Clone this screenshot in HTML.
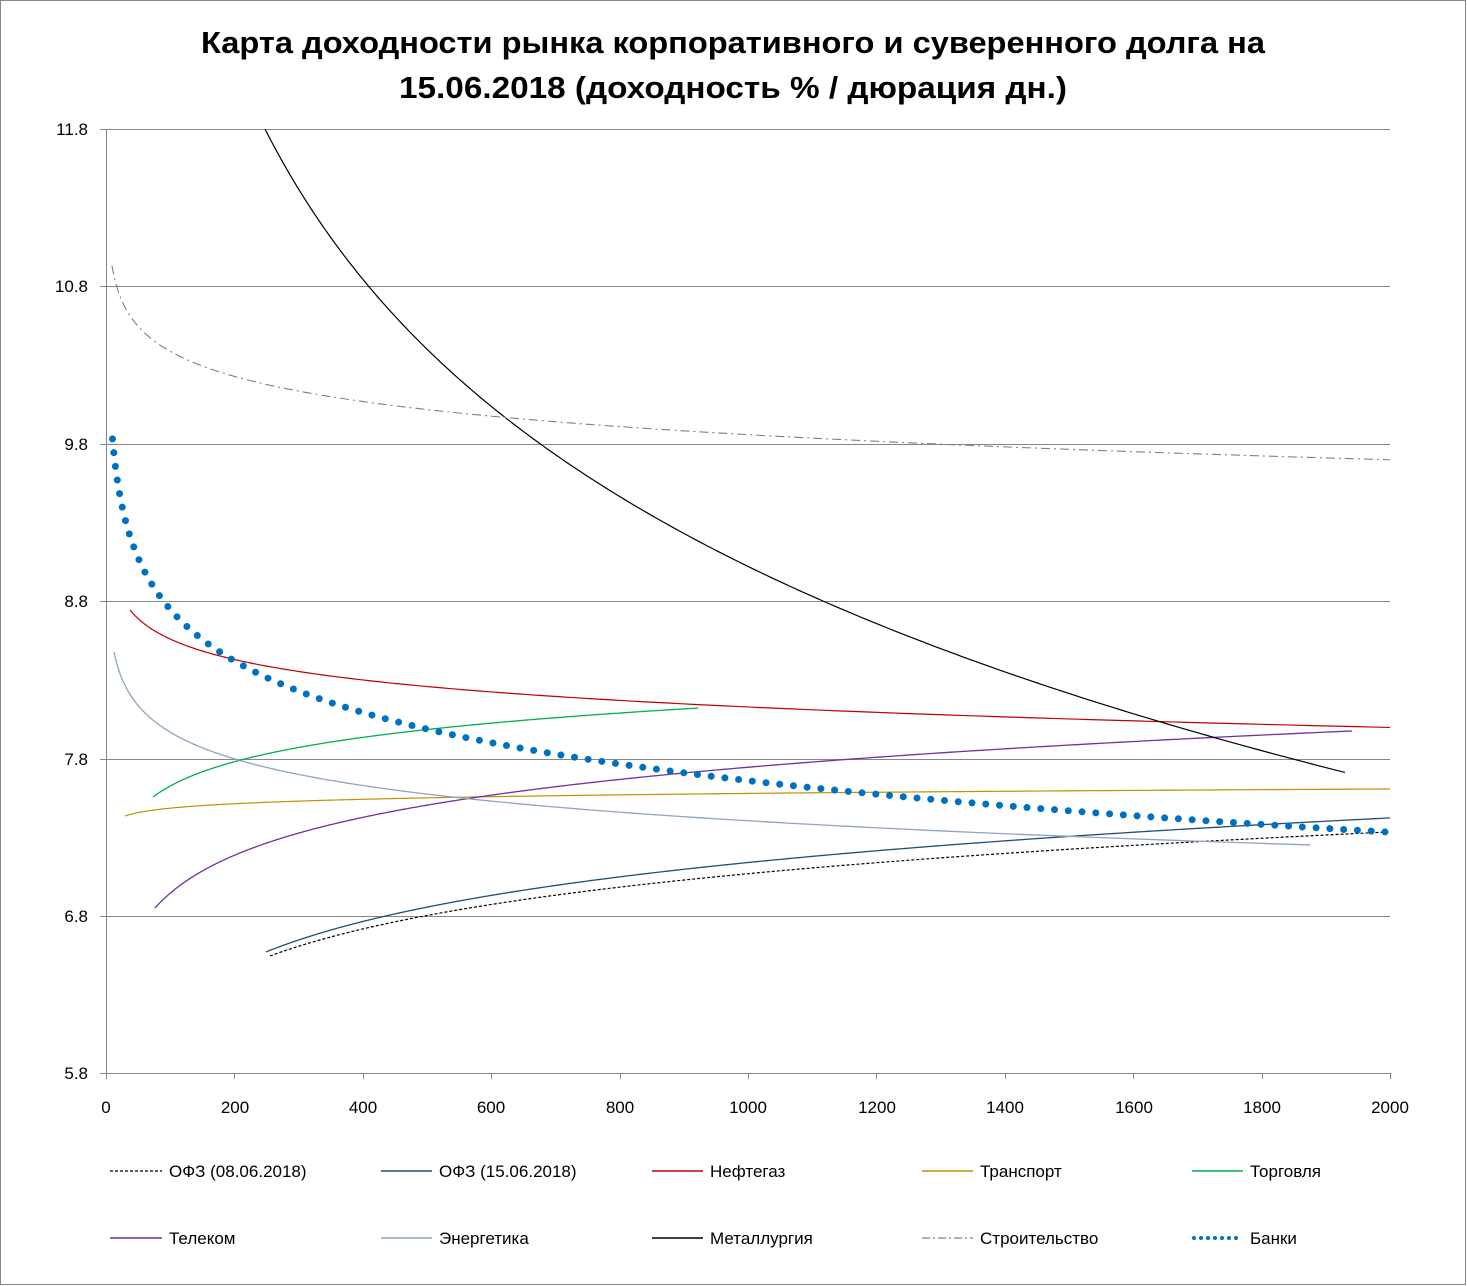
<!DOCTYPE html>
<html><head><meta charset="utf-8"><style>
html,body{margin:0;padding:0;background:#fff;}
svg{display:block;}
text{font-family:"Liberation Sans","DejaVu Sans",sans-serif;}
</style></head><body>
<svg id="s" width="1467" height="1286" viewBox="0 0 1467 1286" xmlns="http://www.w3.org/2000/svg">
<rect x="0.5" y="0.5" width="1465" height="1284" fill="#fff" stroke="#868686" stroke-width="1"/>
<text x="733" y="53" text-anchor="middle" font-size="31" font-weight="bold" textLength="1064" lengthAdjust="spacingAndGlyphs">Карта доходности рынка корпоративного и суверенного долга на</text>
<text x="733" y="98" text-anchor="middle" font-size="31" font-weight="bold" textLength="668" lengthAdjust="spacingAndGlyphs">15.06.2018 (доходность % / дюрация дн.)</text>
<g stroke="#868686" stroke-width="1">
<line x1="100" y1="129.5" x2="1390" y2="129.5"/>
<line x1="100" y1="286.5" x2="1390" y2="286.5"/>
<line x1="100" y1="444.5" x2="1390" y2="444.5"/>
<line x1="100" y1="601.5" x2="1390" y2="601.5"/>
<line x1="100" y1="759.5" x2="1390" y2="759.5"/>
<line x1="100" y1="916.5" x2="1390" y2="916.5"/>
<line x1="100" y1="1073.5" x2="1390" y2="1073.5"/>
<line x1="106.5" y1="129" x2="106.5" y2="1079"/>
<line x1="234.5" y1="1073" x2="234.5" y2="1079"/>
<line x1="363.5" y1="1073" x2="363.5" y2="1079"/>
<line x1="491.5" y1="1073" x2="491.5" y2="1079"/>
<line x1="620.5" y1="1073" x2="620.5" y2="1079"/>
<line x1="748.5" y1="1073" x2="748.5" y2="1079"/>
<line x1="876.5" y1="1073" x2="876.5" y2="1079"/>
<line x1="1005.5" y1="1073" x2="1005.5" y2="1079"/>
<line x1="1133.5" y1="1073" x2="1133.5" y2="1079"/>
<line x1="1262.5" y1="1073" x2="1262.5" y2="1079"/>
<line x1="1390.5" y1="1073" x2="1390.5" y2="1079"/>
</g>
<g font-size="17" text-anchor="end" fill="#000">
<text x="88" y="135">11.8</text>
<text x="88" y="292">10.8</text>
<text x="88" y="450">9.8</text>
<text x="88" y="607">8.8</text>
<text x="88" y="765">7.8</text>
<text x="88" y="922">6.8</text>
<text x="88" y="1079">5.8</text>
</g>
<g font-size="17" text-anchor="middle" fill="#000">
<text x="106" y="1113">0</text>
<text x="235" y="1113">200</text>
<text x="363" y="1113">400</text>
<text x="491" y="1113">600</text>
<text x="620" y="1113">800</text>
<text x="748" y="1113">1000</text>
<text x="877" y="1113">1200</text>
<text x="1005" y="1113">1400</text>
<text x="1134" y="1113">1600</text>
<text x="1262" y="1113">1800</text>
<text x="1390" y="1113">2000</text>
</g>
<g id="curves" fill="none"></g>
<g font-size="17" fill="#000">
<line x1="110" y1="1171" x2="162" y2="1171" stroke="#000" stroke-width="1.3" stroke-dasharray="3 2"/>
<text x="169" y="1177">ОФЗ (08.06.2018)</text>
<line x1="381" y1="1171" x2="432" y2="1171" stroke="#1F4E79" stroke-width="1.5"/>
<text x="439" y="1177">ОФЗ (15.06.2018)</text>
<line x1="652" y1="1171" x2="703" y2="1171" stroke="#C00000" stroke-width="1.5"/>
<text x="710" y="1177">Нефтегаз</text>
<line x1="922" y1="1171" x2="973" y2="1171" stroke="#C09000" stroke-width="1.5"/>
<text x="980" y="1177">Транспорт</text>
<line x1="1192" y1="1171" x2="1243" y2="1171" stroke="#00B050" stroke-width="1.5"/>
<text x="1250" y="1177">Торговля</text>
<line x1="110" y1="1238" x2="162" y2="1238" stroke="#7030A0" stroke-width="1.5"/>
<text x="169" y="1244">Телеком</text>
<line x1="381" y1="1238" x2="432" y2="1238" stroke="#8EA4C0" stroke-width="1.5"/>
<text x="439" y="1244">Энергетика</text>
<line x1="652" y1="1238" x2="703" y2="1238" stroke="#000" stroke-width="1.5"/>
<text x="710" y="1244">Металлургия</text>
<line x1="922" y1="1238" x2="973" y2="1238" stroke="#808080" stroke-width="1.2" stroke-dasharray="8 3 2 3"/>
<text x="980" y="1244">Строительство</text>
<line x1="1194" y1="1238" x2="1243" y2="1238" stroke="#0070C0" stroke-width="4" stroke-linecap="round" stroke-dasharray="0 7"/>
<text x="1250" y="1244">Банки</text>
</g>
</svg>
<script>
(function(){
var NS="http://www.w3.org/2000/svg";
var g=document.getElementById("curves");
function px(d){return 106+d*0.642;}
function mk(A,B,d0,d1,col,w,dash,cap,clipTop){
  var pts=[];var n=300;
  for(var i=0;i<=n;i++){
    var d=d0*Math.pow(d1/d0,i/n);
    var y=A+B*Math.log(d);
    if(clipTop&&y<129)continue;
    pts.push(px(d).toFixed(2)+","+y.toFixed(2));
  }
  var p=document.createElementNS(NS,"path");
  p.setAttribute("d","M"+pts.join(" L"));
  p.setAttribute("stroke",col);p.setAttribute("stroke-width",w);
  p.setAttribute("fill","none");
  if(dash)p.setAttribute("stroke-dasharray",dash);
  if(cap)p.setAttribute("stroke-linecap",cap);
  g.appendChild(p);
}
function dfromx(x){return (x-106)/0.642;}
mk(1290.1,-60.28,dfromx(270),2000,"#000",1.2,"3 2");
mk(1307.1,-64.36,dfromx(266),2000,"#1F4E79",1.3);
mk(503.2,29.5,dfromx(130),2000,"#C00000",1.2);
mk(837.7,-6.41,dfromx(125),2000,"#C09000",1.2);
mk(947.8,-35.12,dfromx(153),dfromx(698),"#00B050",1.3);
mk(1145.1,-54.7,dfromx(155),dfromx(1352),"#7030A0",1.3);
mk(554.95,38.48,dfromx(114),dfromx(1310),"#8EA4C0",1.3);
var Am=129-313.4*Math.log(dfromx(265));
mk(Am,313.4,dfromx(265),dfromx(1345),"#000",1.2);
mk(184.6,36.2,dfromx(112),2000,"#808080",1.1,"9 4 2 4");
mk(266.7,74.4,dfromx(112.5),2000,"#0070C0",7,"0 13.8","round");
})();
</script>
</body></html>
